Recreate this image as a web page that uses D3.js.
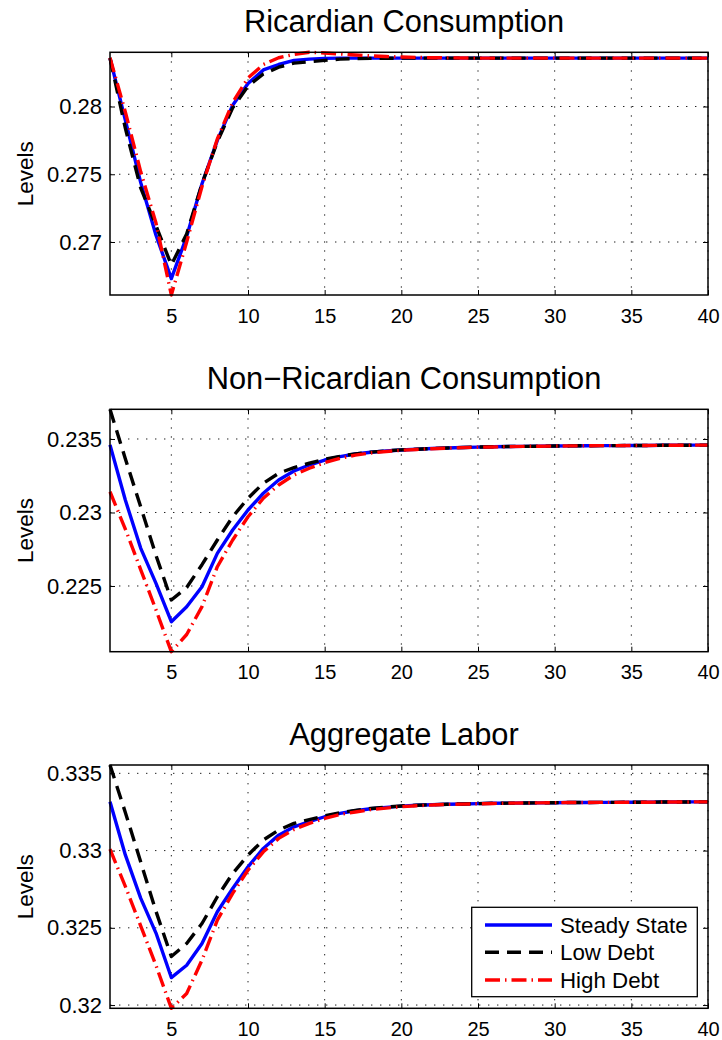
<!DOCTYPE html>
<html>
<head>
<meta charset="utf-8">
<script src="https://cdn.jsdelivr.net/npm/d3@7"></script>
<style>
  body { margin: 0; background: #fff; }
  text { font-family: "Liberation Sans", Arial, Helvetica, sans-serif; fill: #000; }
</style>
</head>
<body>
<svg id="chart" width="722" height="1040"></svg>
<script>
// Horizon (quarters after the shock)
const periods = [1,2,3,4,5,6,7,8,9,10,11,12,13,14,15,16,17,18,19,20,
                 21,22,23,24,25,26,27,28,29,30,31,32,33,34,35,36,37,38,39,40];
const xTicks = [5, 10, 15, 20, 25, 30, 35, 40];

const seriesNames = ["Steady State", "Low Debt", "High Debt"];
const panelTitles = ["Ricardian Consumption", "Non\u2212Ricardian Consumption", "Aggregate Labor"];
const yLabel = "Levels";

// Ricardian consumption
const ricSteady = [0.28357,0.2790,0.2744,0.2705,0.2673,0.2704,0.2743,0.2775,0.2801,0.2817,
                   0.2827,0.2831,0.2834,0.2835,0.28355,0.28357,0.28357,0.28357,0.28357,0.28357,
                   0.28357,0.28357,0.28357,0.28357,0.28357,0.28357,0.28357,0.28357,0.28357,0.28357,
                   0.28357,0.28357,0.28357,0.28357,0.28357,0.28357,0.28357,0.28357,0.28357,0.28357];
const ricLow    = [0.28357,0.2784,0.2740,0.2712,0.2683,0.2706,0.2743,0.2774,0.2799,0.2815,
                   0.2824,0.2829,0.2832,0.2833,0.2834,0.2835,0.28353,0.28355,0.28356,0.28357,
                   0.28357,0.28357,0.28357,0.28357,0.28357,0.28357,0.28357,0.28357,0.28357,0.28357,
                   0.28357,0.28357,0.28357,0.28357,0.28357,0.28357,0.28357,0.28357,0.28357,0.28357];
const ricHigh   = [0.28360,0.2796,0.2752,0.2714,0.26609,0.2700,0.2741,0.2776,0.2803,0.2821,
                   0.2831,0.2836,0.28385,0.28400,0.28395,0.28388,0.2838,0.28374,0.28369,0.28365,
                   0.28362,0.28360,0.28359,0.28358,0.28357,0.28357,0.28357,0.28357,0.28357,0.28357,
                   0.28357,0.28357,0.28357,0.28357,0.28357,0.28357,0.28357,0.28357,0.28357,0.28357];
const ricTicks  = [0.27, 0.275, 0.28];

// Non-Ricardian consumption
const nonSteady = [0.2346,0.23085,0.22758,0.22518,0.22257,0.22359,0.22495,0.22722,0.22881,0.23017,
                   0.23131,0.23221,0.23282,0.23323,0.23357,0.2338,0.23398,0.2341,0.23418,0.23425,
                   0.2343,0.23435,0.23439,0.23442,0.23445,0.23447,0.23449,0.2345,0.23451,0.23452,
                   0.23453,0.23454,0.23455,0.23455,0.23456,0.23456,0.23457,0.23457,0.23458,0.23458];
const nonLow    = [0.23702,0.23366,0.23039,0.22708,0.22405,0.2249,0.22645,0.22813,0.22971,0.23097,
                   0.23199,0.23267,0.23305,0.23335,0.23362,0.23382,0.23399,0.23411,0.23419,0.23426,
                   0.2343,0.23435,0.23439,0.23442,0.23445,0.23447,0.23449,0.2345,0.23451,0.23452,
                   0.23453,0.23454,0.23455,0.23455,0.23456,0.23456,0.23457,0.23457,0.23458,0.23458];
const nonHigh   = [0.23141,0.22887,0.22612,0.22337,0.22053,0.2217,0.2236,0.22631,0.22813,0.22971,
                   0.23097,0.23187,0.23255,0.23301,0.23339,0.23369,0.2339,0.23405,0.23415,0.23423,
                   0.23429,0.23434,0.23438,0.23441,0.23444,0.23446,0.23448,0.2345,0.23451,0.23452,
                   0.23453,0.23454,0.23455,0.23455,0.23456,0.23456,0.23457,0.23457,0.23458,0.23458];
const nonTicks  = [0.225, 0.23, 0.235];

// Aggregate labor
const labSteady = [0.33316,0.32972,0.32692,0.32466,0.32178,0.32258,0.32399,0.32604,0.32755,0.32895,
                   0.33014,0.331,0.33154,0.33187,0.33219,0.33241,0.33258,0.33271,0.3328,0.33288,
                   0.33293,0.33297,0.333,0.33302,0.33304,0.33306,0.33307,0.33308,0.33309,0.3331,
                   0.33311,0.33311,0.33312,0.33312,0.33313,0.33313,0.33314,0.33314,0.33315,0.33315];
const labLow    = [0.33554,0.33247,0.32927,0.32606,0.32314,0.32399,0.32528,0.32701,0.32852,0.32971,
                   0.33068,0.33133,0.33176,0.332,0.33225,0.33245,0.3326,0.33272,0.33281,0.33289,
                   0.33293,0.33297,0.333,0.33302,0.33304,0.33306,0.33307,0.33308,0.33309,0.3331,
                   0.33311,0.33311,0.33312,0.33312,0.33313,0.33313,0.33314,0.33314,0.33315,0.33315];
const labHigh   = [0.33009,0.32768,0.32513,0.32256,0.31979,0.32075,0.32291,0.3255,0.32723,0.32874,
                   0.32992,0.33079,0.33137,0.33176,0.33208,0.33234,0.3325,0.33265,0.33275,0.33284,
                   0.3329,0.33295,0.33299,0.33301,0.33303,0.33305,0.33307,0.33308,0.33309,0.3331,
                   0.33311,0.33311,0.33312,0.33312,0.33313,0.33313,0.33314,0.33314,0.33315,0.33315];
const labTicks  = [0.32, 0.325, 0.33, 0.335];

const panels = [
  { title: panelTitles[0], series: [ricSteady, ricLow, ricHigh], ticks: ricTicks, top: 52.3,  bottom: 295 },
  { title: panelTitles[1], series: [nonSteady, nonLow, nonHigh], ticks: nonTicks, top: 409.3, bottom: 651.7 },
  { title: panelTitles[2], series: [labSteady, labLow, labHigh], ticks: labTicks, top: 765,   bottom: 1008.3 }
];

// Line styles: solid blue, dashed black, dash-dot red
const styles = [
  { color: "#0000ff", dash: null },
  { color: "#000000", dash: "14,8" },
  { color: "#ff0000", dash: "15,5,1.5,5" }
];
const lineW = 3.4;
const font = "Liberation Sans, Arial, sans-serif";

const left = 110, right = 708;
const svg = d3.select("#chart");
svg.append("rect").attr("width", 722).attr("height", 1040).attr("fill", "#fff");

const x = d3.scaleLinear().domain([1, 40]).range([left, right]);

panels.forEach(p => {
  const all = p.series.flat();
  const y = d3.scaleLinear().domain(d3.extent(all)).range([p.bottom, p.top]);
  const g = svg.append("g");

  // dotted grid
  g.selectAll(".gx").data(xTicks).join("line")
    .attr("x1", d => x(d)).attr("x2", d => x(d))
    .attr("y1", p.top).attr("y2", p.bottom)
    .attr("stroke", "#222").attr("stroke-width", 1).attr("stroke-dasharray", "1.4,7.6");
  g.selectAll(".gy").data(p.ticks).join("line")
    .attr("x1", left).attr("x2", right)
    .attr("y1", d => y(d)).attr("y2", d => y(d))
    .attr("stroke", "#222").attr("stroke-width", 1).attr("stroke-dasharray", "1.4,7.6");

  // axes with inward ticks on all sides
  const tl = 5;
  g.append("g").attr("transform", `translate(0,${p.bottom})`)
    .call(d3.axisBottom(x).tickValues(xTicks).tickSizeInner(-tl).tickSizeOuter(0).tickPadding(0).tickFormat(d3.format("d")))
    .call(a => a.select(".domain").remove())
    .call(a => a.selectAll("text").attr("font-size", 20).attr("font-family", font).attr("fill", "#000")
                 .attr("y", 27.5).attr("dy", null))
    .call(a => a.selectAll("line").attr("stroke", "#000"));
  g.append("g").attr("transform", `translate(0,${p.top})`)
    .call(d3.axisTop(x).tickValues(xTicks).tickSizeInner(-tl).tickSizeOuter(0).tickFormat(""))
    .call(a => a.select(".domain").remove())
    .call(a => a.selectAll("line").attr("stroke", "#000"));
  g.append("g").attr("transform", `translate(${left},0)`)
    .call(d3.axisLeft(y).tickValues(p.ticks).tickSizeInner(-tl).tickSizeOuter(0).tickPadding(8).tickFormat(d => String(d)))
    .call(a => a.select(".domain").remove())
    .call(a => a.selectAll("text").attr("font-size", 22).attr("font-family", font).attr("fill", "#000"))
    .call(a => a.selectAll("line").attr("stroke", "#000"));
  g.append("g").attr("transform", `translate(${right},0)`)
    .call(d3.axisRight(y).tickValues(p.ticks).tickSizeInner(-tl).tickSizeOuter(0).tickFormat(""))
    .call(a => a.select(".domain").remove())
    .call(a => a.selectAll("line").attr("stroke", "#000"));

  // series lines
  const line = d3.line().x((d, i) => x(periods[i])).y(d => y(d));
  p.series.forEach((s, k) => {
    g.append("path").datum(s)
      .attr("d", line)
      .attr("fill", "none")
      .attr("stroke", styles[k].color)
      .attr("stroke-width", lineW)
      .attr("stroke-linejoin", "round")
      .attr("stroke-dasharray", styles[k].dash);
  });

  // axes box
  g.append("rect")
    .attr("x", left).attr("y", p.top)
    .attr("width", right - left).attr("height", p.bottom - p.top)
    .attr("fill", "none").attr("stroke", "#000").attr("stroke-width", 1.5);

  // title and y label
  svg.append("text")
    .attr("x", 404).attr("y", p.top - 20.5)
    .attr("text-anchor", "middle").attr("font-size", 30.8)
    .text(p.title);
  svg.append("text")
    .attr("transform", `translate(32.5,${(p.top + p.bottom) / 2}) rotate(-90)`)
    .attr("text-anchor", "middle").attr("font-size", 22.5)
    .text(yLabel);
});

// legend in the lower panel
const leg = svg.append("g");
leg.append("rect")
  .attr("x", 471.7).attr("y", 907.3).attr("width", 225.6).attr("height", 89.4)
  .attr("fill", "#fff").attr("stroke", "#000").attr("stroke-width", 1.3);
const legRows = [925, 952.3, 980];
seriesNames.forEach((name, k) => {
  leg.append("line")
    .attr("x1", 485).attr("x2", 552).attr("y1", legRows[k]).attr("y2", legRows[k])
    .attr("stroke", styles[k].color).attr("stroke-width", lineW)
    .attr("stroke-dasharray", styles[k].dash);
  leg.append("text")
    .attr("x", 560).attr("y", legRows[k]).attr("dy", "0.36em")
    .attr("font-size", 22.3)
    .text(name);
});
</script>
</body>
</html>
